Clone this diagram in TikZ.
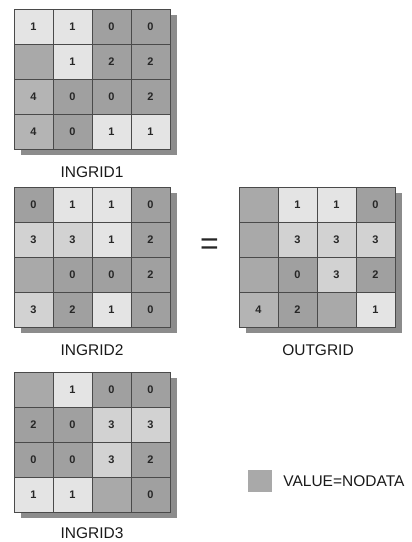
\documentclass[tikz,border=0pt]{standalone}
\usepackage{fontspec}
\setmainfont{Liberation Sans}
\usetikzlibrary{positioning}

\definecolor{gridline}{HTML}{4A4A4A}
\definecolor{gridshade}{HTML}{8C8C8C}
\definecolor{valone}{HTML}{E4E4E4}
\definecolor{valthree}{HTML}{D2D2D2}
\definecolor{valfour}{HTML}{B4B4B4}
\definecolor{valdark}{HTML}{A0A0A0}
\definecolor{nodata}{HTML}{A9A9A9}

\def\nodatamark{N}
% name, left, top, 16 cell values (N = no data)
\newcommand{\rastergrid}[4]{%
  \fill[gridshade] (#2+7,#3+6) rectangle (#2+4*39+7,#3+4*35+6);
  \foreach \v [count=\i from 0] in {#4} {
    \pgfmathtruncatemacro{\row}{div(\i,4)}
    \pgfmathtruncatemacro{\col}{mod(\i,4)}
    \node[cell, c\v] (#1-\row-\col) at (#2+\col*39+19.5, #3+\row*35+17.5)
      {\ifx\v\nodatamark\else\v\fi};
  }
}

\begin{document}
\begin{tikzpicture}[
        x=1pt, y=-1pt,
        cell/.style={
            rectangle, draw=gridline, line width=0.6pt,
            minimum width=39pt, minimum height=35pt, inner sep=0pt,
            font=\fontsize{11}{11}\selectfont\bfseries, text=black!85
        },
        c0/.style={fill=valdark},
        c1/.style={fill=valone},
        c2/.style={fill=valdark},
        c3/.style={fill=valthree},
        c4/.style={fill=valfour},
        cN/.style={fill=nodata},
        gridlabel/.style={font=\fontsize{15.5}{15.5}\selectfont, text=black!90}
    ]
        \useasboundingbox (0,0) rectangle (412,542);

        \rastergrid{ingrida}{14}{9}{1,1,0,0, N,1,2,2, 4,0,0,2, 4,0,1,1}
        \rastergrid{ingridb}{14}{187}{0,1,1,0, 3,3,1,2, N,0,0,2, 3,2,1,0}
        \rastergrid{ingridc}{14}{372}{N,1,0,0, 2,0,3,3, 0,0,3,2, 1,1,N,0}
        \rastergrid{outgrid}{239}{187}{N,1,1,0, N,3,3,3, N,0,3,2, 4,2,N,1}

        \node[gridlabel] (ingridalabel) at (92,172) {INGRID1};
        \node[gridlabel] (ingridblabel) at (92,350) {INGRID2};
        \node[gridlabel] (ingridclabel) at (92,533) {INGRID3};
        \node[gridlabel] (outgridlabel) at (318,350) {OUTGRID};

        \node[font=\fontsize{32}{32}\selectfont, text=black!85] (equals) at (209.5,246.5) {=};

        \node[fill=nodata, minimum width=24pt, minimum height=22pt, inner sep=0pt] (nodatakey) at (260,481) {};
        \node[gridlabel, right=11pt of nodatakey, inner sep=0pt] (nodatatext) {VALUE=NODATA};
    \end{tikzpicture}
\end{document}
